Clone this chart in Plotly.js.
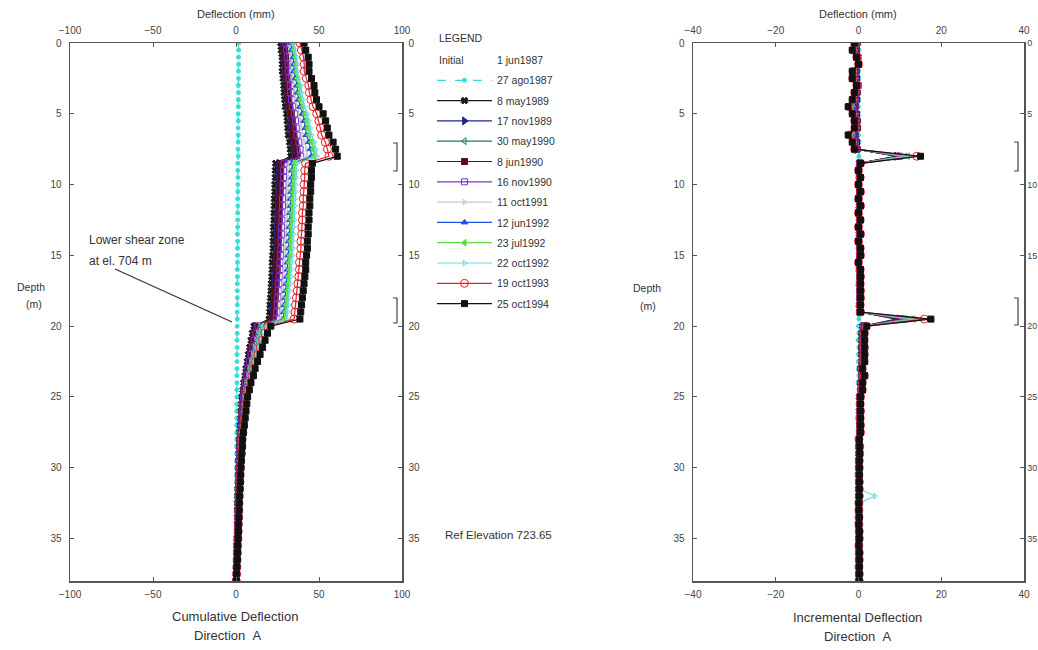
<!DOCTYPE html>
<html><head><meta charset="utf-8">
<script src="https://cdn.plot.ly/plotly-3.0.1.min.js"></script>
<style>html,body{margin:0;padding:0;background:#fff}#chart{width:1038px;height:650px}</style>
</head><body><div id="chart"></div>
<script>
// ---------- DATA ----------
const depth = [0,0.5,1,1.5,2,2.5,3,3.5,4,4.5,5,5.5,6,6.5,7,7.5,8,8.5,9,9.5,10,10.5,11,11.5,12,12.5,13,13.5,14,14.5,15,15.5,16,16.5,17,17.5,18,18.5,19,19.5,20,20.5,21,21.5,22,22.5,23,23.5,24,24.5,25,25.5,26,26.5,27,27.5,28,28.5,29,29.5,30,30.5,31,31.5,32,32.5,33,33.5,34,34.5,35,35.5,36,36.5,37,37.5,38];

const seriesNames = ["27 ago1987","8 may1989","17 nov1989","30 may1990","8 jun1990","16 nov1990","11 oct1991","12 jun1992","23 jul1992","22 oct1992","19 oct1993","25 oct1994"];
const initialName = "1 jun1987";

// initial reading (reference profile, zero deflection)
const cum_initial = [0,0,0,0,0,0,0,0,0,0,0,0,0,0,0,0,0, 0,0,0,0,0,0,0,0,0,0,0,0,0,0,0,0,0,0,0,0,0,0,0, 0,0,0,0,0,0,0,0,0,0,0,0,0,0,0,0,0,0,0,0,0,0,0,0,0,0,0,0,0,0,0,0,0,0,0,0,0];
const inc_initial = [0,0,0,0,0,0,0,0,0,0,0,0,0,0,0,0,0, 0,0,0,0,0,0,0,0,0,0,0,0,0,0,0,0,0,0,0,0,0,0,0, 0,0,0,0,0,0,0,0,0,0,0,0,0,0,0,0,0,0,0,0,0,0,0,0,0,0,0,0,0,0,0,0,0,0,0,0,0];

// cumulative deflection (mm)
const cum_27ago1987 = [1.6,1.6,1.5,1.6,1.5,1.5,1.4,1.5,1.4,1.4,1.3,1.4,1.3,1.3,1.3,1.2,1.3, 1.1,1.1,1.2,1.1,1.1,1.0,1.1,1.0,1.0,1.0,0.9,1.0,0.9,0.9,0.9,0.8,0.9,0.8,0.8,0.8,0.8,0.7,0.8, 0.7,0.7,0.6,0.7,0.6,0.6,0.6,0.5,0.6,0.5,0.5,0.5,0.4,0.5,0.4,0.4,0.4,0.3,0.4,0.3,0.3,0.3,0.3,0.2,0.3,0.2,0.2,0.2,0.2,0.1,0.2,0.1,0.1,0.1,0.1,0.0,0.0];
const cum_8may1989 = [27,27.3,27.8,27.9,27.9,28.4,28.8,29,29.3,29.7,30.5,30.9,31.2,31.5,32.3,32.7,33, 23.9,23.7,23.7,23.4,23.4,23.1,23.1,22.9,22.9,22.6,22.6,22.4,22.4,22.1,21.8,21.8,21.6,21.3,21.1,20.8,20.5,20.3,20.0, 10.9,9.9,9.1,8.3,7.5,6.8,6.0,5.5,4.7,4.2,3.6,3.4,3.1,2.9,2.6,2.3,2.1,2.0,1.8,1.7,1.6,1.5,1.4,1.2,1.1,1.0,1.0,0.9,0.8,0.8,0.7,0.6,0.5,0.4,0.3,0.2,0.1];
const cum_17nov1989 = [28,28.4,28.9,29.1,29.1,29.6,30.1,30.3,30.6,31.2,32,32.6,32.9,33.3,34.1,34.7,35, 25.8,25.5,25.5,25.2,25.2,24.9,24.9,24.6,24.6,24.4,24.4,24.1,24.1,23.8,23.5,23.5,23.2,23.0,22.7,22.4,22.1,21.8,21.6, 11.8,10.6,9.8,9.0,8.1,7.3,6.4,5.9,5.0,4.5,3.9,3.6,3.4,3.1,2.8,2.5,2.2,2.1,2.0,1.8,1.7,1.6,1.5,1.3,1.2,1.1,1.1,1.0,0.9,0.8,0.7,0.6,0.6,0.4,0.3,0.2,0.1];
const cum_30may1990 = [28.5,28.9,29.4,29.6,29.6,30.2,30.8,30.9,31.3,31.9,32.8,33.4,33.8,34.1,35.1,35.6,36, 26.7,26.4,26.4,26.1,26.1,25.8,25.8,25.5,25.5,25.2,25.2,24.9,24.9,24.7,24.4,24.4,24.1,23.8,23.5,23.2,22.9,22.6,22.3, 12.2,11.0,10.2,9.3,8.4,7.5,6.7,6.1,5.2,4.6,4.1,3.8,3.5,3.2,2.9,2.6,2.3,2.2,2.0,1.9,1.7,1.6,1.5,1.4,1.3,1.2,1.1,1.0,0.9,0.9,0.8,0.6,0.6,0.5,0.3,0.2,0.1];
const cum_8jun1990 = [29,29.4,29.9,30.1,30.1,30.7,31.3,31.4,31.8,32.4,33.3,33.9,34.3,34.6,35.6,36.1,36.5, 27.1,26.8,26.8,26.6,26.6,26.3,26.3,26.0,26.0,25.7,25.7,25.4,25.4,25.1,24.8,24.8,24.5,24.2,23.9,23.6,23.3,23.0,22.7, 12.4,11.2,10.3,9.4,8.6,7.7,6.8,6.2,5.3,4.7,4.1,3.8,3.5,3.2,3.0,2.7,2.4,2.2,2.1,1.9,1.8,1.7,1.5,1.4,1.3,1.2,1.1,1.1,0.9,0.9,0.8,0.6,0.6,0.5,0.4,0.2,0.1];
const cum_16nov1990 = [30,30.5,31.1,31.4,31.4,32,32.7,32.9,33.4,34.1,35.2,35.9,36.3,36.8,37.9,38.6,39, 29.0,28.7,28.7,28.4,28.4,28.0,28.0,27.7,27.7,27.4,27.4,27.1,27.1,26.8,26.5,26.5,26.1,25.8,25.5,25.2,24.9,24.6,24.3, 13.2,12.0,11.0,10.1,9.1,8.2,7.2,6.6,5.7,5.0,4.4,4.1,3.8,3.5,3.2,2.8,2.5,2.4,2.2,2.0,1.9,1.8,1.6,1.5,1.4,1.3,1.2,1.1,1.0,0.9,0.8,0.7,0.6,0.5,0.4,0.3,0.1];
const cum_11oct1991 = [32,32.6,33.4,33.7,33.7,34.5,35.3,35.6,36.1,37,38.3,39.2,39.7,40.3,41.6,42.5,43, 32.2,31.9,31.9,31.5,31.5,31.2,31.2,30.8,30.8,30.5,30.5,30.1,30.1,29.8,29.4,29.4,29.1,28.7,28.4,28.0,27.7,27.3,27.0, 14.7,13.3,12.3,11.2,10.2,9.1,8.1,7.4,6.3,5.6,4.9,4.6,4.2,3.9,3.5,3.2,2.8,2.7,2.5,2.2,2.1,2.0,1.8,1.7,1.5,1.4,1.3,1.3,1.1,1.1,0.9,0.8,0.7,0.6,0.4,0.3,0.1];
const cum_12jun1992 = [33,33.6,34.6,34.9,34.9,35.8,36.8,37.1,37.7,38.6,40.2,41.1,41.8,42.4,43.9,44.9,45.5, 34.0,33.7,33.7,33.3,33.3,32.9,32.9,32.6,32.6,32.2,32.2,31.8,31.8,31.5,31.1,31.1,30.7,30.3,30.0,29.6,29.2,28.9,28.5, 15.5,14.1,13.0,11.8,10.7,9.6,8.5,7.8,6.7,5.9,5.2,4.8,4.4,4.1,3.7,3.3,3.0,2.8,2.6,2.4,2.2,2.1,1.9,1.8,1.6,1.5,1.4,1.3,1.2,1.1,1.0,0.8,0.7,0.6,0.4,0.3,0.1];
const cum_23jul1992 = [34,34.7,35.6,36,36,36.9,37.9,38.2,38.9,39.9,41.5,42.5,43.1,43.8,45.4,46.4,47, 35.0,34.6,34.6,34.2,34.2,33.8,33.8,33.4,33.4,33.1,33.1,32.7,32.7,32.3,31.9,31.9,31.5,31.2,30.8,30.4,30.0,29.6,29.3, 16.0,14.4,13.3,12.2,11.0,9.9,8.7,8.0,6.8,6.1,5.3,4.9,4.6,4.2,3.8,3.4,3.0,2.9,2.7,2.4,2.3,2.1,2.0,1.8,1.7,1.5,1.4,1.4,1.2,1.1,1.0,0.8,0.8,0.6,0.5,0.3,0.2];
const cum_22oct1992 = [35,35.7,36.8,37.1,37.1,38.2,39.2,39.6,40.3,41.3,43.1,44.1,44.8,45.5,47.3,48.3,49, 36.8,36.4,36.4,36.0,36.0,35.6,35.6,35.2,35.2,34.8,34.8,34.4,34.4,34.0,33.6,33.6,33.2,32.8,32.4,32.0,31.6,31.2,30.8, 16.8,15.2,14.0,12.8,11.6,10.4,9.2,8.4,7.2,6.4,5.6,5.2,4.8,4.4,4.0,3.6,3.2,3.0,2.8,2.6,2.4,2.2,2.1,1.9,1.8,1.6,1.5,1.4,1.3,1.2,1.0,0.9,0.8,0.6,0.5,0.3,0.2];
const cum_19oct1993 = [38.5,39.4,40.7,41.1,41.1,42.4,43.8,44.2,45.1,46.4,48.6,49.9,50.8,51.6,53.8,55.1,56, 41.9,41.4,41.4,41.0,41.0,40.5,40.5,40.0,40.0,39.6,39.6,39.1,39.1,38.7,38.2,38.2,37.8,37.3,36.9,36.4,35.9,35.5,35.0, 19.1,17.3,15.9,14.6,13.2,11.8,10.5,9.6,8.2,7.3,6.4,5.9,5.5,5.0,4.6,4.1,3.6,3.5,3.2,2.9,2.7,2.5,2.4,2.2,2.0,1.8,1.7,1.6,1.5,1.4,1.2,1.0,0.9,0.7,0.5,0.4,0.2];
const cum_25oct1994 = [41,42,43.5,44,44,45.5,47,47.5,48.5,50,52.5,54,55,56,58.5,60,61, 46,45.5,45.5,45,45,44.5,44.5,44,44,43.5,43.5,43,43,42.5,42,42,41.5,41,40.5,40,39.5,39,38.5, 21,19,17.5,16,14.5,13,11.5,10.5,9,8,7,6.5,6,5.5,5,4.5,4,3.8,3.5,3.2,3,2.8,2.6,2.4,2.2,2,1.9,1.8,1.6,1.5,1.3,1.1,1,0.8,0.6,0.4,0.2];

// incremental deflection (mm)
const inc_27ago1987 = [0,0.1,-0.1,0.1,0,0,0.1,-0.1,0.1,0,-0.1,0.1,0,0,0.1,-0.1, 0.1, 0,0,-0.1,0.1,0,0.1,0,0,0,0.1,-0.1,0,0,0,0.1,-0.1,0.1,0,0,0,0.1,-0.1, 0.1, 0,0.1,-0.1,0.1,0,0,0,0.1,-0.1,0.1,0,0,0.1,-0.1,0.1,0,0,0.1,-0.1,0,0,0.1,-0.1,0.1,0,0,0.1,-0.1,0,0,0.1,0,0,0,0,0, 0];
const inc_8may1989 = [-0.3,-0.5,-0.1,0,-0.5,-0.4,-0.2,-0.3,-0.4,-0.8,-0.4,-0.3,-0.3,-0.8,-0.4,-0.3, 9.1, 0.2,0,0.3,0,0.3,0,0.2,0,0.3,0,0.2,0,0.3,0.3,0,0.2,0.3,0.2,0.3,0.3,0.2,0.3, 9.1, 1.0,0.8,0.8,0.8,0.7,0.8,0.5,0.8,0.5,0.6,0.2,0.3,0.2,0.3,0.3,0.2,0.1,0.2,0.1,0.1,0.1,0.1,0.2,0.1,0.1,0,0.1,0.1,0,0.1,0.1,0.1,0.1,0.1,0.1,0.1, 0.1];
const inc_17nov1989 = [-0.4,-0.5,-0.2,0,-0.5,-0.5,-0.2,-0.3,-0.6,-0.8,-0.6,-0.3,-0.4,-0.8,-0.6,-0.3, 9.2, 0.3,0,0.3,0,0.3,0,0.3,0,0.2,0,0.3,0,0.3,0.3,0,0.3,0.3,0.2,0.3,0.3,0.3,0.2, 9.8, 1.2,0.8,0.8,0.9,0.8,0.9,0.5,0.9,0.5,0.6,0.3,0.2,0.3,0.3,0.3,0.3,0.1,0.1,0.2,0.1,0.1,0.1,0.2,0.1,0.1,0,0.1,0.1,0.1,0.1,0.1,0,0.2,0.1,0.1,0.1, 0.1];
const inc_30may1990 = [-0.4,-0.5,-0.2,0,-0.6,-0.6,-0.1,-0.4,-0.6,-0.9,-0.6,-0.4,-0.3,-1,-0.5,-0.4, 9.3, 0.3,0,0.3,0,0.3,0,0.3,0,0.3,0,0.3,0,0.2,0.3,0,0.3,0.3,0.3,0.3,0.3,0.3,0.3, 10.1, 1.2,0.8,0.9,0.9,0.9,0.8,0.6,0.9,0.6,0.5,0.3,0.3,0.3,0.3,0.3,0.3,0.1,0.2,0.1,0.2,0.1,0.1,0.1,0.1,0.1,0.1,0.1,0.1,0,0.1,0.2,0,0.1,0.2,0.1,0.1, 0.1];
const inc_8jun1990 = [-0.4,-0.5,-0.2,0,-0.6,-0.6,-0.1,-0.4,-0.6,-0.9,-0.6,-0.4,-0.3,-1,-0.5,-0.4, 9.4, 0.3,0,0.2,0,0.3,0,0.3,0,0.3,0,0.3,0,0.3,0.3,0,0.3,0.3,0.3,0.3,0.3,0.3,0.3, 10.3, 1.2,0.9,0.9,0.8,0.9,0.9,0.6,0.9,0.6,0.6,0.3,0.3,0.3,0.2,0.3,0.3,0.2,0.1,0.2,0.1,0.1,0.2,0.1,0.1,0.1,0.1,0,0.2,0,0.1,0.2,0,0.1,0.1,0.2,0.1, 0.1];
const inc_16nov1990 = [-0.5,-0.6,-0.3,0,-0.6,-0.7,-0.2,-0.5,-0.7,-1.1,-0.7,-0.4,-0.5,-1.1,-0.7,-0.4, 10, 0.3,0,0.3,0,0.4,0,0.3,0,0.3,0,0.3,0,0.3,0.3,0,0.4,0.3,0.3,0.3,0.3,0.3,0.3, 11.1, 1.2,1.0,0.9,1.0,0.9,1.0,0.6,0.9,0.7,0.6,0.3,0.3,0.3,0.3,0.4,0.3,0.1,0.2,0.2,0.1,0.1,0.2,0.1,0.1,0.1,0.1,0.1,0.1,0.1,0.1,0.1,0.1,0.1,0.1,0.1,0.2, 0.1];
const inc_11oct1991 = [-0.6,-0.8,-0.3,0,-0.8,-0.8,-0.3,-0.5,-0.9,-1.3,-0.9,-0.5,-0.6,-1.3,-0.9,-0.5, 10.8, 0.3,0,0.4,0,0.3,0,0.4,0,0.3,0,0.4,0,0.3,0.4,0,0.3,0.4,0.3,0.4,0.3,0.4,0.3, 12.3, 1.4,1.0,1.1,1.0,1.1,1.0,0.7,1.1,0.7,0.7,0.3,0.4,0.3,0.4,0.3,0.4,0.1,0.2,0.3,0.1,0.1,0.2,0.1,0.2,0.1,0.1,0,0.2,0,0.2,0.1,0.1,0.1,0.2,0.1,0.2, 0.1];
const inc_12jun1992 = [-0.6,-1,-0.3,0,-0.9,-1,-0.3,-0.6,-0.9,-1.6,-0.9,-0.7,-0.6,-1.5,-1,-0.6, 11.5, 0.3,0,0.4,0,0.4,0,0.3,0,0.4,0,0.4,0,0.3,0.4,0,0.4,0.4,0.3,0.4,0.4,0.3,0.4, 13.0, 1.4,1.1,1.2,1.1,1.1,1.1,0.7,1.1,0.8,0.7,0.4,0.4,0.3,0.4,0.4,0.3,0.2,0.2,0.2,0.2,0.1,0.2,0.1,0.2,0.1,0.1,0.1,0.1,0.1,0.1,0.2,0.1,0.1,0.2,0.1,0.2, 0.1];
const inc_23jul1992 = [-0.7,-0.9,-0.4,0,-0.9,-1,-0.3,-0.7,-1,-1.6,-1,-0.6,-0.7,-1.6,-1,-0.6, 12, 0.4,0,0.4,0,0.4,0,0.4,0,0.3,0,0.4,0,0.4,0.4,0,0.4,0.3,0.4,0.4,0.4,0.4,0.3, 13.3, 1.6,1.1,1.1,1.2,1.1,1.2,0.7,1.2,0.7,0.8,0.4,0.3,0.4,0.4,0.4,0.4,0.1,0.2,0.3,0.1,0.2,0.1,0.2,0.1,0.2,0.1,0,0.2,0.1,0.1,0.2,0,0.2,0.1,0.2,0.1, 0.2];
const inc_22oct1992 = [-0.7,-1.1,-0.3,0,-1.1,-1,-0.4,-0.7,-1,-1.8,-1,-0.7,-0.7,-1.8,-1,-0.7, 12.2, 0.4,0,0.4,0,0.4,0,0.4,0,0.4,0,0.4,0,0.4,0.4,0,0.4,0.4,0.4,0.4,0.4,0.4,0.4, 14.0, 1.6,1.2,1.2,1.2,1.2,1.2,0.8,1.2,0.8,0.8,0.4,0.4,0.4,0.4,0.4,0.4,0.2,0.2,0.2,0.2,0.2,0.1,0.2,0.1,4.0,0.1,0.1,0.1,0.1,0.2,0.1,0.1,0.2,0.1,0.2,0.1, 0.2];
const inc_19oct1993 = [-0.9,-1.3,-0.4,0,-1.3,-1.4,-0.4,-0.9,-1.3,-2.2,-1.3,-0.9,-0.8,-2.2,-1.3,-0.9, 14.1, 0.5,0,0.4,0,0.5,0,0.5,0,0.4,0,0.5,0,0.4,0.5,0,0.4,0.5,0.4,0.5,0.5,0.4,0.5, 15.9, 1.8,1.4,1.3,1.4,1.4,1.3,0.9,1.4,0.9,0.9,0.5,0.4,0.5,0.4,0.5,0.5,0.1,0.3,0.3,0.2,0.2,0.1,0.2,0.2,0.2,0.1,0.1,0.1,0.1,0.2,0.2,0.1,0.2,0.2,0.1,0.2, 0.2];
const inc_25oct1994 = [-1,-1.5,-0.5,0,-1.5,-1.5,-0.5,-1,-1.5,-2.5,-1.5,-1,-1,-2.5,-1.5,-1, 15, 0.5,0,0.5,0,0.5,0,0.5,0,0.5,0,0.5,0,0.5,0.5,0,0.5,0.5,0.5,0.5,0.5,0.5,0.5, 17.5, 2,1.5,1.5,1.5,1.5,1.5,1,1.5,1,1,0.5,0.5,0.5,0.5,0.5,0.5,0.2,0.3,0.3,0.2,0.2,0.2,0.2,0.2,0.2,0.1,0.1,0.2,0.1,0.2,0.2,0.1,0.2,0.2,0.2,0.2, 0.2];

const cumSeries = [cum_27ago1987,cum_8may1989,cum_17nov1989,cum_30may1990,cum_8jun1990,cum_16nov1990,cum_11oct1991,cum_12jun1992,cum_23jul1992,cum_22oct1992,cum_19oct1993,cum_25oct1994];
const incSeries = [inc_27ago1987,inc_8may1989,inc_17nov1989,inc_30may1990,inc_8jun1990,inc_16nov1990,inc_11oct1991,inc_12jun1992,inc_23jul1992,inc_22oct1992,inc_19oct1993,inc_25oct1994];

const xTicksCum = [-100,-50,0,50,100];
const xTicksInc = [-40,-20,0,20,40];
const depthTicks = [0,5,10,15,20,25,30,35];

// ---------- STYLES ----------
const styles = [
  {color:'#33e0d6', dash:'dash', symbol:'circle', size:4},
  {color:'#1a1a1a', dash:'solid', symbol:'x', size:6},
  {color:'#202090', dash:'solid', symbol:'triangle-right', size:7},
  {color:'#1a7a5a', dash:'solid', symbol:'triangle-left-open', size:6},
  {color:'#5c0a1c', dash:'solid', symbol:'square', size:6},
  {color:'#7a33cc', dash:'solid', symbol:'square-open', size:6},
  {color:'#c8c8c8', dash:'solid', symbol:'triangle-right-open', size:5},
  {color:'#2050e8', dash:'solid', symbol:'triangle-up', size:6},
  {color:'#5ede3a', dash:'solid', symbol:'triangle-left', size:6},
  {color:'#6adada', dash:'solid', symbol:'triangle-right-open', size:5},
  {color:'#e8202a', dash:'solid', symbol:'circle-open', size:8},
  {color:'#111111', dash:'solid', symbol:'square', size:6}
];

const W = 1038, H = 650;
const px = v => v / W, py = v => 1 - v / H;
const L0 = 70, L1 = 402, R0 = 693, R1 = 1024, T = 43, B = 581;

const traces = [];
// initial readings drawn on the mirrored (top/right) axes so that those axes are rendered
traces.push({type:'scatter', mode:'lines', x:cum_initial, y:depth, name:initialName, legendgroup:'g0',
  line:{color:'rgba(0,0,0,0)', width:1}, xaxis:'x2', yaxis:'y2', hoverinfo:'skip'});
traces.push({type:'scatter', mode:'lines', x:inc_initial, y:depth, name:initialName, showlegend:false,
  line:{color:'rgba(0,0,0,0)', width:1}, xaxis:'x4', yaxis:'y4', hoverinfo:'skip'});
cumSeries.forEach((vals, i) => {
  const s = styles[i];
  traces.push({type:'scatter', mode:'lines+markers', x:vals, y:depth, name:seriesNames[i], legendgroup:'g'+(i+1), xaxis:'x', yaxis:'y',
    line:{color:s.color, width:1.2, dash:s.dash}, marker:{symbol:s.symbol, size:s.size, color:s.color, line:{color:s.color, width:1}}});
});
incSeries.forEach((vals, i) => {
  const s = styles[i];
  traces.push({type:'scatter', mode:'lines+markers', x:vals, y:depth, name:seriesNames[i], legendgroup:'g'+(i+1), xaxis:'x3', yaxis:'y3', showlegend:false,
    line:{color:s.color, width:1.2, dash:s.dash}, marker:{symbol:s.symbol, size:s.size, color:s.color, line:{color:s.color, width:1}}});
});

const FONT = 'Liberation Sans, Arial, sans-serif';
const base = {showline:true, linecolor:'#555', linewidth:1.5, ticks:'inside', ticklen:4, tickcolor:'#555', tickwidth:1,
  showgrid:false, zeroline:false, tickfont:{size:10, color:'#444', family:FONT}, fixedrange:true};

const layout = {
  width:W, height:H, margin:{l:0,r:0,t:0,b:0}, paper_bgcolor:'#fff', plot_bgcolor:'#fff',
  font:{family:FONT, color:'#333'}, showlegend:true,
  xaxis: Object.assign({}, base, {domain:[px(L0),px(L1)], range:[-100,100], tickvals:xTicksCum, anchor:'y', side:'bottom', ticklabelstandoff:3}),
  xaxis2: Object.assign({}, base, {range:[-100,100], tickvals:xTicksCum, overlaying:'x', anchor:'y', side:'top', ticklabelstandoff:4}),
  yaxis: Object.assign({}, base, {domain:[py(B),py(T)], range:[38,0], tickvals:depthTicks, anchor:'x', side:'left', ticklabelstandoff:5}),
  yaxis2: Object.assign({}, base, {range:[38,0], tickvals:depthTicks, overlaying:'y', anchor:'x', side:'right', ticklabelstandoff:3}),
  xaxis3: Object.assign({}, base, {domain:[px(R0),px(R1)], range:[-40,40], tickvals:xTicksInc, anchor:'y3', side:'bottom', ticklabelstandoff:3}),
  xaxis4: Object.assign({}, base, {range:[-40,40], tickvals:xTicksInc, overlaying:'x3', anchor:'y3', side:'top', ticklabelstandoff:4}),
  yaxis3: Object.assign({}, base, {domain:[py(B),py(T)], range:[38,0], tickvals:depthTicks, anchor:'x3', side:'left', ticklabelstandoff:5}),
  yaxis4: Object.assign({}, base, {range:[38,0], tickvals:depthTicks, overlaying:'y3', anchor:'x3', side:'right', ticklabelstandoff:0, tickfont:{size:9, color:'#444', family:FONT}}),
  legend:{x:px(432), y:py(45.5), xanchor:'left', yanchor:'top', bgcolor:'rgba(0,0,0,0)', font:{size:10.5, color:'#333', family:FONT},
    traceorder:'grouped', tracegroupgap:1.3, itemwidth:55},
  annotations:[],
  shapes:[]
};

function txt(t, x, y, size, anchor) {
  layout.annotations.push({text:t, xref:'paper', yref:'paper', x:px(x), y:py(y), xanchor:anchor||'center', yanchor:'middle',
    showarrow:false, font:{size:size, color:'#333', family:FONT}});
}
txt('LEGEND', 437, 38, 10.5, 'left');
txt('Deflection (mm)', 236, 14, 11);
txt('Deflection (mm)', 858, 14, 11);
txt('Cumulative Deflection', 235, 616, 13);
txt('Direction&nbsp;&nbsp;A', 228, 635, 13);
txt('Incremental Deflection', 857, 617, 13);
txt('Direction&nbsp;&nbsp;A', 858, 636, 13);
txt('Depth', 31, 287, 10.5);
txt('(m)', 34, 304, 10.5);
txt('Depth', 647, 288, 10.5);
txt('(m)', 648, 306, 10.5);
txt('Lower shear zone', 87, 240, 12, 'left');
txt('at el. 704 m', 87, 261, 12, 'left');
txt('Ref Elevation 723.65', 443, 535, 11.5, 'left');
txt('Initial', 437, 60, 10.5, 'left');

layout.shapes.push({type:'line', xref:'paper', yref:'paper', x0:px(115), y0:py(269), x1:px(232), y1:py(322), line:{color:'#333', width:1.2}});
function bracket(x, y0, y1) {
  const a = px(x - 4), b = px(x), t = py(y0), u = py(y1);
  layout.shapes.push({type:'path', xref:'paper', yref:'paper', path:`M${a},${t} L${b},${t} L${b},${u} L${a},${u}`, line:{color:'#444', width:1.2}});
}
bracket(397, 143, 171);
bracket(397, 298, 323);
bracket(1018, 142, 171);
bracket(1018, 298, 325);

Plotly.newPlot('chart', traces, layout, {displayModeBar:false, staticPlot:true});
</script></body></html>
